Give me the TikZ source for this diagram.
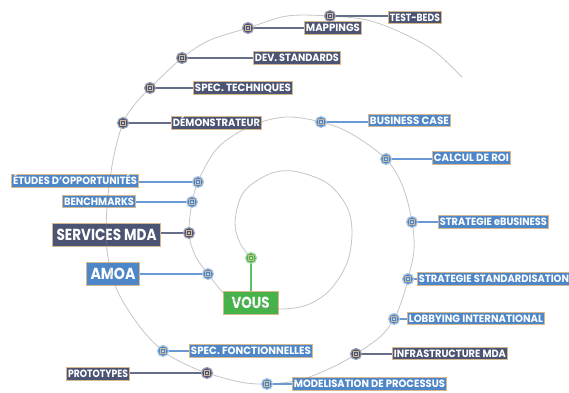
\documentclass[tikz,border=0pt]{standalone}
\usepackage{fontspec}
\setsansfont{Poppins}
\usepackage{graphicx}
\definecolor{dk}{RGB}{76,84,116}
\definecolor{bl}{RGB}{78,134,202}
\definecolor{gr}{RGB}{70,178,74}
\definecolor{tanc}{RGB}{214,184,140}
\newcommand\fw[2]{\resizebox{#1pt}{\height}{#2}}
\tikzset{
  lab/.style={draw=tanc, line width=0.9pt, text=white, inner xsep=1.5pt, inner ysep=0pt,
    minimum height=12.5pt, text height=7.3pt, text depth=0pt,
    font=\sffamily\bfseries\fontsize{10.5}{10.5}\selectfont},
  biglab/.style={lab, minimum height=23pt, text height=11.5pt, inner xsep=4pt,
    font=\sffamily\bfseries\fontsize{16}{16}\selectfont},
  labdk/.style={lab, fill=dk},
  labbl/.style={lab, fill=bl},
  mk/.style={circle, minimum size=11pt, inner sep=0pt, line width=1.2pt,
    path picture={
      \draw[tanc, line width=0.7pt] ([shift={(-2.4pt,-2.4pt)}]path picture bounding box.center)
        rectangle ([shift={(2.4pt,2.4pt)}]path picture bounding box.center);
      \fill[white] (path picture bounding box.center) circle (1pt);}},
  mkdk/.style={mk, fill=dk, draw=dk!55!white},
  mkbl/.style={mk, fill=bl, draw=bl!45!white},
  mkgr/.style={mk, fill=gr, draw=gr!45!white},
  spiralline/.style={draw=black!50, draw opacity=0.45, line width=0.8pt},
  condk/.style={draw=dk!85!white, line width=1.1pt},
  conbl/.style={draw=bl!85!white, line width=1.1pt},
  congr/.style={draw=gr!85!white, line width=1.1pt},
}
\begin{document}
\begin{tikzpicture}[x=1pt,y=-1pt]
\useasboundingbox[fill=white] (0,0) rectangle (569,392);

% labels
\node[labdk, anchor=west] (ltb) at (388,17.5) {\fw{50}{TEST-BEDS}};
\node[labdk, anchor=west] (lmp) at (304,28) {\fw{54}{MAPPINGS}};
\node[labdk, anchor=west] (lds) at (253,58) {\fw{84}{DEV. STANDARDS}};
\node[labdk, anchor=west] (lst) at (193,88) {\fw{96}{SPEC. TECHNIQUES}};
\node[labdk, anchor=west] (ldm) at (171,123) {\fw{87}{DÉMONSTRATEUR}};
\node[labbl, anchor=west] (lbc) at (368,120.5) {\fw{79}{BUSINESS CASE}};
\node[labbl, anchor=west] (lcr) at (432,158) {\fw{75}{CALCUL DE ROI}};
\node[labbl, anchor=west] (leb) at (438,222) {\fw{107}{STRATEGIE eBUSINESS}};
\node[labbl, anchor=west] (lss) at (417,279) {\fw{150}{STRATEGIE STANDARDISATION}};
\node[labbl, anchor=west] (lli) at (407,318.5) {\fw{134}{LOBBYING INTERNATIONAL}};
\node[labdk, anchor=west] (lim) at (392,353.5) {\fw{112}{INFRASTRUCTURE MDA}};
\node[labbl, anchor=west] (lmo) at (292,384) {\fw{151}{MODELISATION DE PROCESSUS}};
\node[labbl, anchor=west] (lsf) at (189,351) {\fw{120}{SPEC. FONCTIONNELLES}};
\node[labdk, anchor=east] (lpr) at (130,374) {\fw{60}{PROTOTYPES}};
\node[labbl, anchor=east] (let) at (139,181) {\fw{124}{ÉTUDES D'OPPORTUNITÉS}};
\node[labbl, anchor=east] (lbm) at (136,201.5) {\fw{70}{BENCHMARKS}};
\node[biglab, fill=dk, anchor=east] (lsm) at (161,234.5) {\fw{100}{SERVICES MDA}};
\node[biglab, fill=bl, anchor=east] (lam) at (140,273.5) {\fw{45}{AMOA}};
\node[biglab, fill=gr, minimum width=55pt] (lvo) at (250.5,303) {\fw{38}{VOUS}};

% spiral
\draw[spiralline] plot[smooth, tension=0.55] coordinates {
 (251,258) (240,243) (235,222) (243,193) (267,175) (293,171) (327,183) (347,207)
 (352,233) (347,263) (330,290) (307,305) (280,309) (253,305) (228,297) (208,274)
 (195,255) (189,233) (192,202) (198,182) (205,167) (215,151) (228,139) (255,124)
 (287,117) (321,122) (350,133) (386,159) (403,187) (412,222) (414,250) (408,279)
 (402,300) (394,319) (381,336) (356,354) (333,367) (300,380) (267,384) (240,382)
 (207,373) (185,364) (163,351) (140,327) (117,290) (107,250) (107,207) (113,160)
 (123,123) (135,104) (150,88) (182,58) (210,40) (248,28) (287,16) (330,16)
 (367,20) (400,32) (433,50) (462,77)};

% markers
\node[mkdk] (mtb) at (330,16) {};
\node[mkdk] (mmp) at (248,28) {};
\node[mkdk] (mds) at (182,58) {};
\node[mkdk] (mst) at (150,88) {};
\node[mkdk] (mdm) at (123,123) {};
\node[mkbl] (mbc) at (321,122) {};
\node[mkbl] (mcr) at (386,159) {};
\node[mkbl] (meb) at (412,222) {};
\node[mkbl] (mss) at (408,279) {};
\node[mkbl] (mli) at (394,319) {};
\node[mkdk] (mim) at (356,354) {};
\node[mkbl] (mmo) at (267,384) {};
\node[mkbl] (msf) at (163,351) {};
\node[mkdk] (mpr) at (207,373) {};
\node[mkbl] (met) at (198,182) {};
\node[mkbl] (mbm) at (192,202) {};
\node[mkdk] (msm) at (189,233) {};
\node[mkbl] (mam) at (208,274) {};
\node[mkgr] (mvo) at (251,258) {};

% connectors
\draw[condk] (mtb.east) -- (mtb.east -| ltb.west);
\draw[condk] (mmp.east) -- (mmp.east -| lmp.west);
\draw[condk] (mds.east) -- (mds.east -| lds.west);
\draw[condk] (mst.east) -- (mst.east -| lst.west);
\draw[condk] (mdm.east) -- (mdm.east -| ldm.west);
\draw[conbl] (mbc.east) -- (mbc.east -| lbc.west);
\draw[conbl] (mcr.east) -- (mcr.east -| lcr.west);
\draw[conbl] (meb.east) -- (meb.east -| leb.west);
\draw[conbl] (mss.east) -- (mss.east -| lss.west);
\draw[conbl] (mli.east) -- (mli.east -| lli.west);
\draw[condk] (mim.east) -- (mim.east -| lim.west);
\draw[conbl] (mmo.east) -- (mmo.east -| lmo.west);
\draw[conbl] (msf.east) -- (msf.east -| lsf.west);
\draw[condk] (mpr.west) -- (mpr.west -| lpr.east);
\draw[conbl] (met.west) -- (met.west -| let.east);
\draw[conbl] (mbm.west) -- (mbm.west -| lbm.east);
\draw[condk] (msm.west) -- (msm.west -| lsm.east);
\draw[conbl] (mam.west) -- (mam.west -| lam.east);
\draw[congr] (mvo.south) -- (mvo.south |- lvo.north);
\end{tikzpicture}
\end{document}
